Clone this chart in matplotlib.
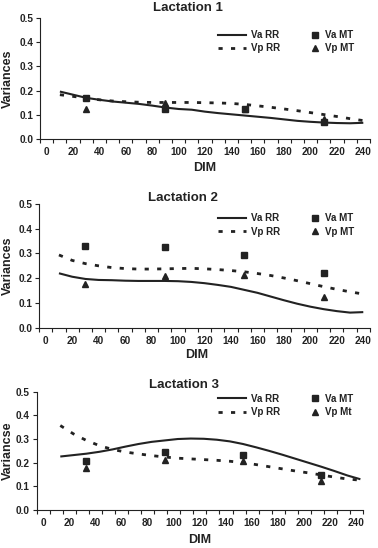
import numpy as np
import matplotlib
matplotlib.use("Agg")
import matplotlib.pyplot as plt
from matplotlib.lines import Line2D

plt.rcParams["font.family"] = ["Liberation Sans", "DejaVu Sans"]
plt.rcParams["font.weight"] = "bold"

INK = "#222222"

# ---- data ----
dim_12 = [10, 20, 30, 40, 50, 60, 70, 80, 90, 100, 110, 120,
          130, 140, 150, 160, 170, 180, 190, 200, 210, 220, 230, 240]
dim_3 = [13, 23, 33, 43, 53, 63, 73, 83, 93, 103, 113, 123,
         133, 143, 153, 163, 173, 183, 193, 203, 213, 223, 233, 243]
mt_dim_12 = [30, 90, 150, 210]
mt_dim_3 = [33, 93, 153, 213]

l1_va_rr = [0.196, 0.183, 0.170, 0.162, 0.155, 0.150, 0.145, 0.138, 0.130, 0.124, 0.121, 0.113,
            0.107, 0.102, 0.097, 0.092, 0.087, 0.081, 0.075, 0.071, 0.068, 0.066, 0.065, 0.067]
l1_vp_rr = [0.183, 0.176, 0.169, 0.162, 0.157, 0.154, 0.152, 0.151, 0.151, 0.151, 0.151, 0.150,
            0.149, 0.147, 0.143, 0.137, 0.131, 0.124, 0.117, 0.109, 0.101, 0.093, 0.084, 0.076]
l1_va_mt = [0.168, 0.125, 0.123, 0.072]
l1_vp_mt = [0.122, 0.148, 0.123, 0.082]

l2_va_rr = [0.220, 0.206, 0.197, 0.193, 0.192, 0.190, 0.189, 0.189, 0.189, 0.188, 0.185, 0.180,
            0.173, 0.165, 0.153, 0.141, 0.126, 0.111, 0.097, 0.085, 0.075, 0.067, 0.061, 0.063]
l2_vp_rr = [0.294, 0.272, 0.259, 0.250, 0.243, 0.239, 0.237, 0.237, 0.238, 0.239, 0.240, 0.238,
            0.235, 0.231, 0.226, 0.219, 0.211, 0.201, 0.190, 0.178, 0.166, 0.155, 0.145, 0.136]
l2_va_mt = [0.330, 0.325, 0.295, 0.220]
l2_vp_mt = [0.178, 0.209, 0.213, 0.123]

l3_va_rr = [0.226, 0.232, 0.238, 0.246, 0.256, 0.268, 0.279, 0.288, 0.294, 0.300, 0.302, 0.301,
            0.297, 0.290, 0.279, 0.265, 0.250, 0.234, 0.217, 0.200, 0.183, 0.165, 0.146, 0.130]
l3_vp_rr = [0.357, 0.322, 0.294, 0.272, 0.256, 0.245, 0.237, 0.230, 0.224, 0.219, 0.216, 0.213,
            0.210, 0.206, 0.200, 0.192, 0.183, 0.174, 0.165, 0.157, 0.148, 0.139, 0.131, 0.126]
l3_va_mt = [0.209, 0.244, 0.233, 0.146]
l3_vp_mt = [0.176, 0.212, 0.209, 0.124]

titles = ["Lactation 1", "Lactation 2", "Lactation 3"]
ylabels = ["Variances", "Variances", "Variancse"]
legend_labels = [["Va RR", "Vp RR", "Va MT", "Vp MT"],
                 ["Va RR", "Vp RR", "Va MT", "Vp MT"],
                 ["Va RR", "Vp RR", "Va MT", "Vp Mt"]]

W, H = 378, 548
fig = plt.figure(figsize=(W / 100, H / 100), dpi=100)

# axes boxes in pixels: left, right, top, bottom
boxes = [(40.1, 369.9, 18, 139), (39.1, 369.9, 204, 327.7), (36.8, 363.0, 391.7, 510)]
title_pos = [(188, 8), (183, 198), (184, 385)]
dim_pos = [(205, 168.3), (196.7, 355), (200, 540)]
leg_y = [41.7, 225, 405.5]

panels = [
    (dim_12, l1_va_rr, l1_vp_rr, mt_dim_12, l1_va_mt, l1_vp_mt),
    (dim_12, l2_va_rr, l2_vp_rr, mt_dim_12, l2_va_mt, l2_vp_mt),
    (dim_3, l3_va_rr, l3_vp_rr, mt_dim_3, l3_va_mt, l3_vp_mt),
]

for i, (x, va_rr, vp_rr, xm, va_mt, vp_mt) in enumerate(panels):
    l, r, t, b = boxes[i]
    ax = fig.add_axes([l / W, 1 - b / H, (r - l) / W, (b - t) / H])
    aw, ah = r - l, b - t

    ax.plot(x, va_rr, color=INK, lw=1.5, solid_capstyle="butt")
    ax.plot(x, vp_rr, color=INK, lw=2.0, linestyle=(0, (1.5, 3.0)))
    ax.plot(xm, vp_mt, "^", color=INK, ms=5, ls="none")
    ax.plot(xm, va_mt, "s", color=INK, ms=4.5, ls="none")

    ax.set_xlim(-5, 245)
    ax.set_ylim(0, 0.5)
    for s in ["top", "right"]:
        ax.spines[s].set_visible(False)
    for s in ["left", "bottom"]:
        ax.spines[s].set_color(INK)
        ax.spines[s].set_linewidth(0.8)

    # category-style axis: ticks between categories, labels on categories
    ax.set_xticks(np.arange(-5, 246, 10))
    ax.set_xticklabels([])
    ax.set_xticks(np.arange(0, 241, 20), minor=True)
    ax.set_xticklabels([str(v) for v in range(0, 241, 20)], minor=True)
    ax.tick_params(axis="x", which="major", length=3, width=0.8, color=INK)
    ax.tick_params(axis="x", which="minor", length=0, pad=6, labelsize=7.2, labelcolor=INK)
    ax.set_yticks(np.arange(0, 0.51, 0.1))
    ax.set_yticklabels([f"{v:.1f}" for v in np.arange(0, 0.51, 0.1)])
    ax.tick_params(axis="y", length=3, width=0.8, color=INK, pad=2, labelsize=7.2, labelcolor=INK)

    ax.text((8 - l) / aw, 0.5, ylabels[i], transform=ax.transAxes, rotation=90,
            ha="center", va="center", fontsize=9, color=INK)
    ax.text((dim_pos[i][0] - l) / aw, (b - dim_pos[i][1]) / ah, "DIM", transform=ax.transAxes,
            ha="center", va="center", fontsize=9, color=INK)
    fig.text(title_pos[i][0] / W, 1 - title_pos[i][1] / H, titles[i],
             ha="center", va="center", fontsize=9.5, color=INK)

    labs = legend_labels[i]
    yy = (b - leg_y[i]) / ah
    h1 = [Line2D([], [], color=INK, lw=1.5),
          Line2D([], [], color=INK, lw=2.0, linestyle=(0, (1.5, 3.0)))]
    leg1 = ax.legend(h1, labs[:2], loc="center left", bbox_to_anchor=((218.3 - l) / aw, yy),
                     frameon=False, fontsize=7, handlelength=2.9, handletextpad=0.5,
                     borderpad=0, borderaxespad=0, labelspacing=0.35, labelcolor=INK)
    ax.add_artist(leg1)
    h2 = [Line2D([], [], color=INK, marker="s", ms=4, ls="none"),
          Line2D([], [], color=INK, marker="^", ms=4.5, ls="none")]
    ax.legend(h2, labs[2:], loc="center left", bbox_to_anchor=((310.5 - l) / aw, yy),
              frameon=False, fontsize=7, handlelength=1.0, handletextpad=0.5,
              borderpad=0, borderaxespad=0, labelspacing=0.35, labelcolor=INK)

fig.savefig("out.png", dpi=100)
